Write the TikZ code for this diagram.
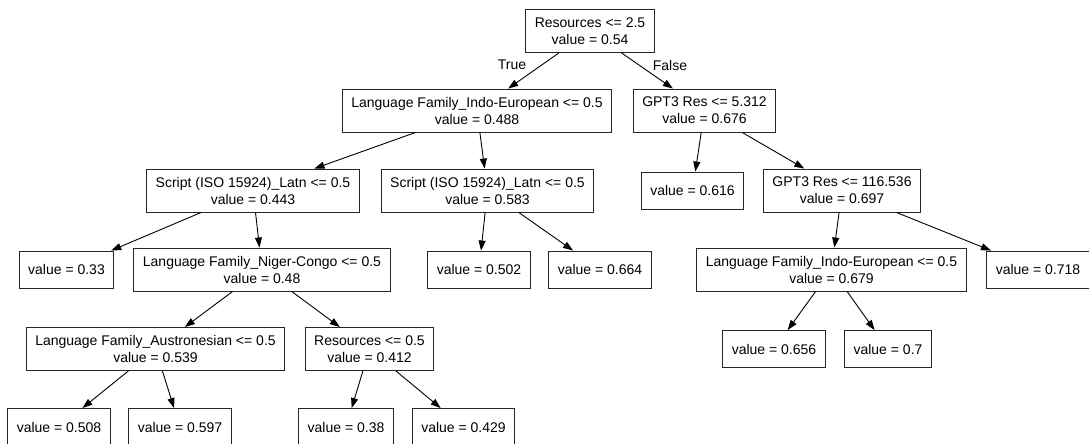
\documentclass[tikz,border=0pt]{standalone}
\usepackage{fontspec}
\setmainfont{Liberation Sans}
\usetikzlibrary{arrows.meta}
\tikzset{
  split/.style={draw=black!85, line width=0.9pt, align=center, inner xsep=9pt, inner ysep=0pt, minimum height=43pt, font=\fontsize{14}{17}\selectfont},
  leaf/.style={split, minimum height=37pt},
  branch/.style={-{Triangle[length=10pt,width=7pt]}, line width=0.9pt},
  lbl/.style={font=\fontsize{14}{17}\selectfont, inner sep=0pt}
}
\begin{document}
\begin{tikzpicture}[x=1pt,y=-1pt]
\useasboundingbox (0,0) rectangle (1089,444);
\node[split] (root) at (590,31) {Resources <= 2.5\\value = 0.54};
\node[split] (ie1) at (477,110.5) {Language Family\_Indo-European <= 0.5\\value = 0.488};
\node[split] (gpt1) at (704.5,110.5) {GPT3 Res <= 5.312\\value = 0.676};
\node[split] (latn1) at (253,190.5) {Script (ISO 15924)\_Latn <= 0.5\\value = 0.443};
\node[split] (latn2) at (487.5,190.5) {Script (ISO 15924)\_Latn <= 0.5\\value = 0.583};
\node[leaf] (v616) at (692.5,190.5) {value = 0.616};
\node[split] (gpt2) at (842,190.5) {GPT3 Res <= 116.536\\value = 0.697};
\node[leaf] (v33) at (66.5,269.5) {value = 0.33};
\node[split] (nc) at (262,269.5) {Language Family\_Niger-Congo <= 0.5\\value = 0.48};
\node[leaf] (v502) at (479,269.5) {value = 0.502};
\node[leaf] (v664) at (600,269.5) {value = 0.664};
\node[split] (ie2) at (831.5,269.5) {Language Family\_Indo-European <= 0.5\\value = 0.679};
\node[leaf] (v718) at (1038,269.5) {value = 0.718};
\node[split] (austr) at (155.5,349) {Language Family\_Austronesian <= 0.5\\value = 0.539};
\node[split] (res2) at (369.5,349) {Resources <= 0.5\\value = 0.412};
\node[leaf] (v656) at (774,349) {value = 0.656};
\node[leaf] (v7) at (888,349) {value = 0.7};
\node[leaf] (v508) at (59,427) {value = 0.508};
\node[leaf] (v597) at (180,427) {value = 0.597};
\node[leaf] (v38) at (346,427) {value = 0.38};
\node[leaf] (v429) at (463.5,427) {value = 0.429};
\node[lbl] (truelbl) at (512,65) {True};
\node[lbl] (falselbl) at (670,65) {False};
\draw[branch] (root) -- (ie1);
\draw[branch] (root) -- (gpt1);
\draw[branch] (ie1) -- (latn1);
\draw[branch] (ie1) -- (latn2);
\draw[branch] (gpt1) -- (v616);
\draw[branch] (gpt1) -- (gpt2);
\draw[branch] (latn1) -- (v33);
\draw[branch] (latn1) -- (nc);
\draw[branch] (latn2) -- (v502);
\draw[branch] (latn2) -- (v664);
\draw[branch] (gpt2) -- (ie2);
\draw[branch] (gpt2) -- (v718);
\draw[branch] (nc) -- (austr);
\draw[branch] (nc) -- (res2);
\draw[branch] (ie2) -- (v656);
\draw[branch] (ie2) -- (v7);
\draw[branch] (austr) -- (v508);
\draw[branch] (austr) -- (v597);
\draw[branch] (res2) -- (v38);
\draw[branch] (res2) -- (v429);
\end{tikzpicture}
\end{document}
